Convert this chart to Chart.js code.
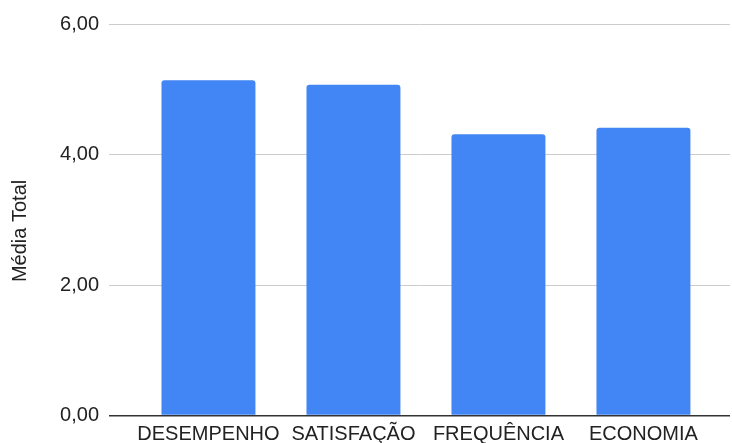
<!DOCTYPE html>
<html>
<head>
<meta charset="utf-8">
<script src="https://cdn.jsdelivr.net/npm/chart.js@4/dist/chart.umd.min.js"></script>
<style>
html,body{margin:0;padding:0;background:#fff;}
#wrap{width:732px;height:443px;position:relative;}
</style>
</head>
<body>
<div id="wrap"><canvas id="c" width="732" height="443"></canvas></div>
<script>
const categories = ["DESEMPENHO", "SATISFAÇÃO", "FREQUÊNCIA", "ECONOMIA"];
const values = [5.14, 5.07, 4.31, 4.41];
const yTicks = [0, 2, 4, 6];
const yTitle = "Média Total";

const points = categories.map((c, i) => ({x: i, y: values[i]}));
const FONT = "'Liberation Sans', Arial, sans-serif";

new Chart(document.getElementById('c'), {
  type: 'bar',
  data: {
    datasets: [{
      data: points,
      backgroundColor: '#4285F4',
      borderWidth: 0,
      borderRadius: {topLeft: 3, topRight: 3, bottomLeft: 0, bottomRight: 0},
      borderSkipped: 'bottom',
      categoryPercentage: 1,
      barPercentage: 0.648
    }]
  },
  options: {
    responsive: false,
    animation: false,
    devicePixelRatio: 1,
    layout: {padding: {top: 24, right: 2, left: 0, bottom: 0}},
    plugins: {legend: {display: false}, tooltip: {enabled: false}},
    scales: {
      x: {
        type: 'linear',
        offset: false,
        min: -0.686,
        max: 3.597,
        grid: {display: false, drawTicks: false, offset: false},
        border: {display: false},
        afterBuildTicks: (s) => { s.ticks = categories.map((c, i) => ({value: i})); },
        afterFit: (s) => { s.height = 27.4; },
        ticks: {
          autoSkip: false,
          maxRotation: 0,
          padding: 7,
          color: '#222',
          font: {family: FONT, size: 20},
          callback: (v) => categories[v] ?? ''
        }
      },
      y: {
        min: 0,
        max: 6,
        afterBuildTicks: (s) => { s.ticks = yTicks.map(v => ({value: v})); },
        afterFit: (s) => { s.width = 109; },
        grid: {
          drawTicks: false,
          color: (ctx) => ctx.tick && ctx.tick.value === 0 ? '#333' : '#ccc',
          lineWidth: (ctx) => ctx.tick && ctx.tick.value === 0 ? 1.5 : 1
        },
        border: {display: false},
        ticks: {
          padding: 10,
          color: '#222',
          font: {family: FONT, size: 20},
          callback: (v) => Number(v).toFixed(2).replace('.', ',')
        },
        title: {
          display: true,
          text: yTitle + "    ",
          color: '#222',
          font: {family: FONT, size: 20},
          padding: {top: 8, bottom: 0}
        }
      }
    }
  }
});
</script>
</body>
</html>
